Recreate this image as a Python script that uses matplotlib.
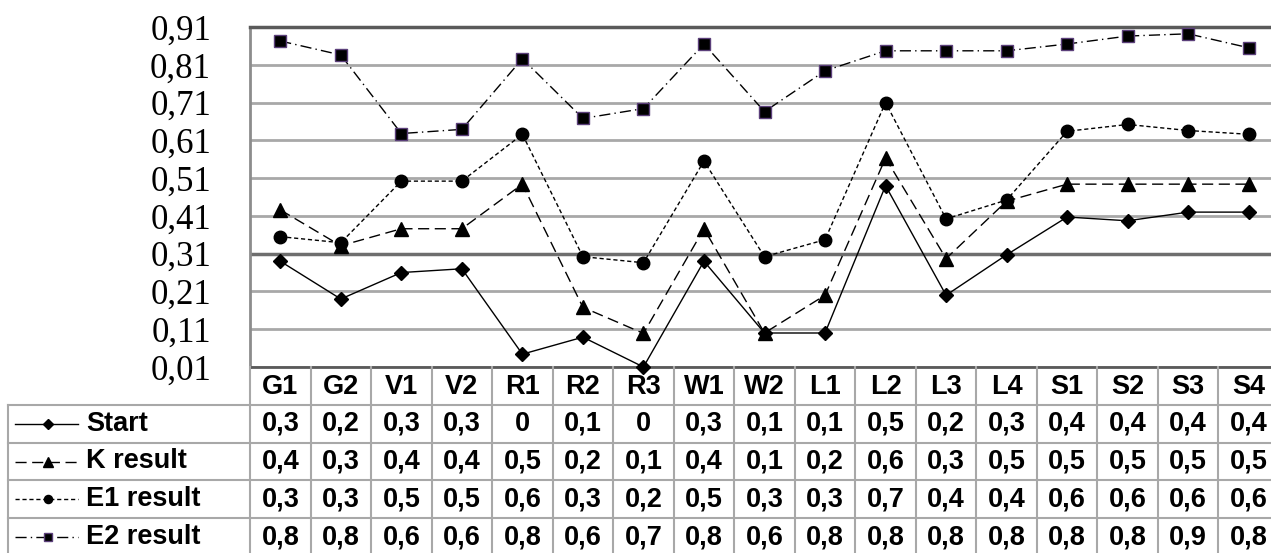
# Line chart with Excel-style data table underneath
import matplotlib.pyplot as plt

categories = ['G1', 'G2', 'V1', 'V2', 'R1', 'R2', 'R3', 'W1', 'W2',
              'L1', 'L2', 'L3', 'L4', 'S1', 'S2', 'S3', 'S4']

# plotted values
start = [0.29, 0.19, 0.26, 0.27, 0.044, 0.089, 0.01, 0.29, 0.10,
         0.10, 0.49, 0.20, 0.307, 0.407, 0.397, 0.42, 0.42]
k_result = [0.426, 0.331, 0.376, 0.376, 0.494, 0.168, 0.099, 0.376, 0.10,
            0.20, 0.563, 0.297, 0.449, 0.494, 0.494, 0.494, 0.494]
e1_result = [0.355, 0.339, 0.502, 0.502, 0.626, 0.302, 0.286, 0.555, 0.302,
             0.347, 0.71, 0.402, 0.452, 0.634, 0.652, 0.636, 0.626]
e2_result = [0.873, 0.836, 0.628, 0.639, 0.826, 0.668, 0.694, 0.865, 0.686,
             0.794, 0.847, 0.847, 0.847, 0.865, 0.886, 0.892, 0.855]

# values as printed in the data table
start_tab = ['0,3', '0,2', '0,3', '0,3', '0', '0,1', '0', '0,3', '0,1',
             '0,1', '0,5', '0,2', '0,3', '0,4', '0,4', '0,4', '0,4']
k_tab = ['0,4', '0,3', '0,4', '0,4', '0,5', '0,2', '0,1', '0,4', '0,1',
         '0,2', '0,6', '0,3', '0,5', '0,5', '0,5', '0,5', '0,5']
e1_tab = ['0,3', '0,3', '0,5', '0,5', '0,6', '0,3', '0,2', '0,5', '0,3',
          '0,3', '0,7', '0,4', '0,4', '0,6', '0,6', '0,6', '0,6']
e2_tab = ['0,8', '0,8', '0,6', '0,6', '0,8', '0,6', '0,7', '0,8', '0,6',
          '0,8', '0,8', '0,8', '0,8', '0,8', '0,8', '0,9', '0,8']

series_names = ['Start', 'K result', 'E1 result', 'E2 result']
yticks = [0.01, 0.11, 0.21, 0.31, 0.41, 0.51, 0.61, 0.71, 0.81, 0.91]

W, H = 1271, 553
fig = plt.figure(figsize=(W / 100, H / 100), dpi=100)

styles = [
    dict(ls='-', marker='D', ms=7.5, mfc='black', mec='black'),
    dict(ls=(0, (8, 4)), marker='^', ms=10.5, mfc='black', mec='black'),
    dict(ls=(0, (3, 2)), marker='o', ms=9, mfc='black', mec='black'),
    dict(ls=(0, (8, 3, 1, 3)), marker='s', ms=9, mfc='black', mec='#5b3f7a'),
]

# main plot area
ax = fig.add_axes([250 / W, (H - 367) / H, 1029 / W, 340 / H])
x = list(range(len(categories)))
for vals, st in zip([start, k_result, e1_result, e2_result], styles):
    ax.plot(x, vals, color='black', lw=1, zorder=3, clip_on=False, **st)

ax.set_xlim(-0.5, len(categories) - 0.5)
ax.set_ylim(0.01, 0.91)
ax.set_yticks(yticks)
ax.set_yticklabels([f'{t:.2f}'.replace('.', ',') for t in yticks],
                   fontfamily='Liberation Serif', fontsize=25)
ax.set_xticks([])
ax.tick_params(axis='y', length=0, pad=28)
ax.grid(axis='y', color='#a8a8a8', lw=2, zorder=1)
ax.axhline(0.31, color='#6e6e6e', lw=2.5, zorder=2)
ax.spines['top'].set_color('#5a5a5a')
ax.spines['top'].set_linewidth(2.5)
ax.spines['left'].set_color('#8c8c8c')
ax.spines['left'].set_linewidth(2)
ax.spines['bottom'].set_color('#5a5a5a')
ax.spines['bottom'].set_linewidth(2)
ax.spines['right'].set_visible(False)

# data table
tab = fig.add_axes([8 / W, (H - 556) / H, 1271 / W, 189 / H])
n = len(categories)
tab.set_xlim(-4.5, n - 0.5)
tab.set_ylim(5, 0)
tab.axis('off')
grid_c = '#a8a8a8'
for r in range(1, 5):
    tab.plot([-4.5, n - 0.5], [r, r], color=grid_c, lw=1.5, clip_on=False)
for i in range(n + 1):
    tab.plot([i - 0.5, i - 0.5], [0, 5], color=grid_c, lw=1.5, clip_on=False)
tab.plot([-4.5, -4.5], [1, 5], color=grid_c, lw=1.5, clip_on=False)

tfont = dict(fontfamily='Liberation Sans', fontweight='bold', fontsize=19.5)
for i, c in enumerate(categories):
    tab.text(i, 0.52, c, ha='center', va='center', **tfont)
for r, row in enumerate([start_tab, k_tab, e1_tab, e2_tab], start=1):
    for i, v in enumerate(row):
        tab.text(i, r + 0.5, v, ha='center', va='center', **tfont)

# legend keys in the first column
px = lambda p: -4.5 + (p - 8) / 60.53
for r, (name, st) in enumerate(zip(series_names, styles), start=1):
    tab.plot([px(15), px(78)], [r + 0.5, r + 0.5], color='black', lw=1,
             ls=st['ls'], clip_on=False)
    tab.plot([px(48)], [r + 0.5], color='black', marker=st['marker'],
             ms=st['ms'] * 0.65, mfc=st['mfc'], mec=st['mec'], clip_on=False)
    tab.text(px(86), r + 0.5, name, ha='left', va='center', **tfont)

fig.savefig('out.png', dpi=100)
